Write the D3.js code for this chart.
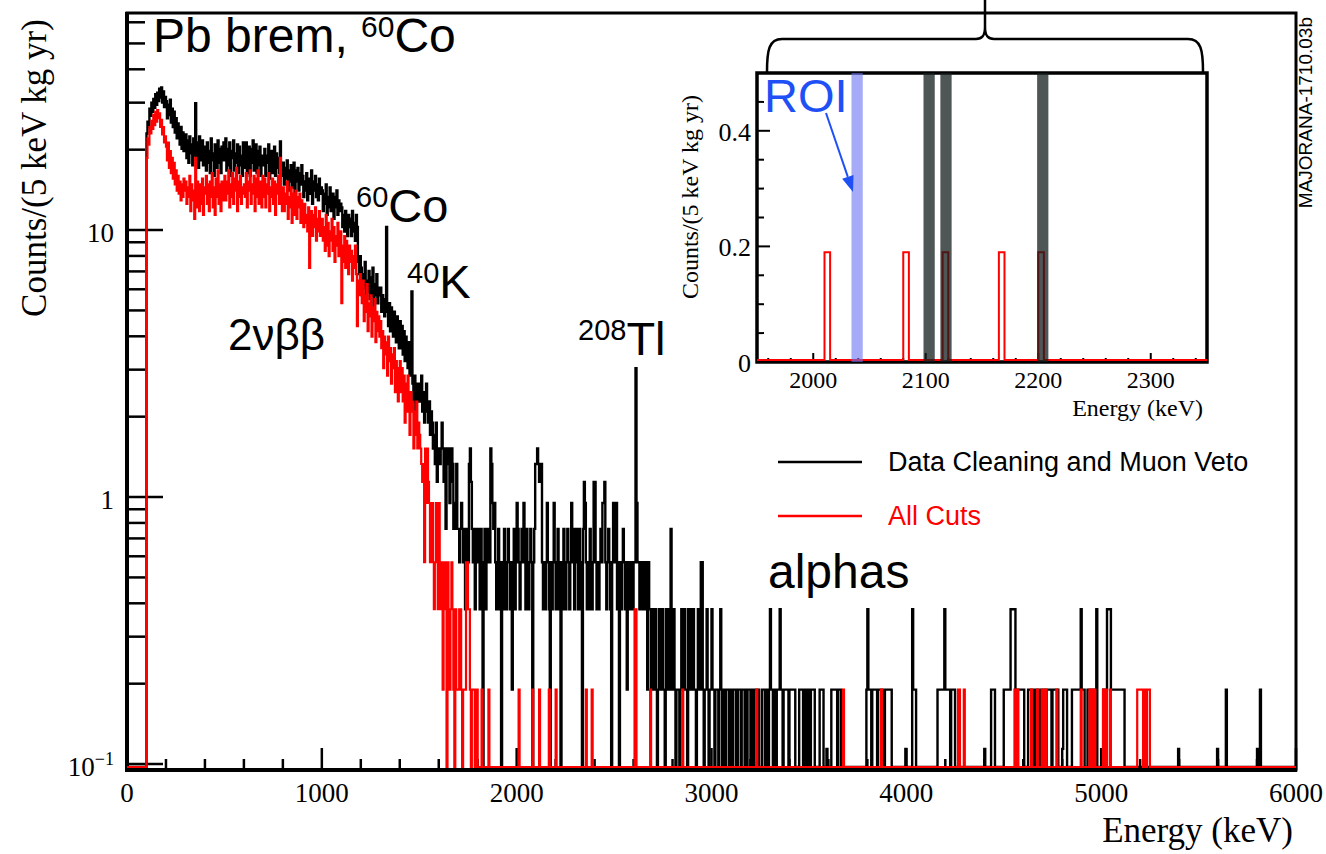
<!DOCTYPE html>
<html>
<head>
<meta charset="utf-8">
<script src="https://cdn.jsdelivr.net/npm/d3@7"></script>
<style>
body { margin: 0; background: #fff; }
.serif { font-family: "Liberation Serif", "Times New Roman", serif; }
.sans { font-family: "Liberation Sans", Arial, sans-serif; }
</style>
</head>
<body>
<svg id="chart" width="1326" height="854"></svg>
<script>
"use strict";
// 5 keV bins from 0 to 6000 keV, one row = 100 keV
var binWidth = 5;
var perCount = 0.19; // counts/(5 keV kg yr) for one event

// Data Cleaning and Muon Veto (events per bin)
var blackCounts = [
0,0,0,0,0,0,0,0,0,0,0,0,0,0,0,0,0,0,0,0,
121,134,128,150,141,158,146,163,151,170,155,172,160,178,165,180,158,174,152,166,
160,138,155,142,162,133,150,128,146,122,138,116,132,120,110,128,106,122,104,118,
120,98,114,94,118,102,110,92,116,100,157,96,112,90,118,104,96,114,92,108,
108,88,112,94,104,86,116,96,102,84,110,98,90,114,94,106,86,108,96,112,
96,116,88,106,92,112,84,104,98,114,88,102,94,110,86,108,92,100,84,112,
104,90,112,86,100,108,84,106,94,114,88,98,110,86,104,92,108,84,100,96,
92,106,84,100,94,110,82,98,104,86,96,108,84,102,90,98,86,113,92,84,
94,78,90,82,96,74,88,80,92,76,86,94,72,88,80,90,74,86,78,92,
84,70,80,74,86,68,82,72,78,88,66,80,74,84,70,78,68,82,72,76,
74,62,72,66,78,60,70,64,76,62,68,72,58,70,64,74,60,68,62,66,
64,54,60,52,62,56,50,60,54,58,50,62,52,56,48,60,54,40,36,42,
38,30,36,32,40,28,34,31,37,29,35,30,38,27,33,30,36,28,32,30,
32,26,30,28,25,29,54,26,23,28,22,27,24,21,26,23,20,25,22,19,
24,19,23,18,22,17,21,19,16,20,15,18,31,14,12,15,11,14,12,13,
14,12,15,11,13,10,12,14,11,10,12,9,11,10,8,9,7,10,6,8,
8,7,8,10,8,6,8,4,8,7,8,5,6,8,7,4,5,4,7,4,
4,3,4,5,4,3,4,2,3,4,3,7,8,6,4,3,4,2,4,3,
4,3,2,4,3,0,3,4,2,3,4,3,3,8,7,5,4,5,3,2,
3,4,2,3,0,3,2,4,3,2,3,4,3,2,3,1,3,4,2,3,
5,4,3,2,3,4,3,5,3,2,4,3,2,3,4,3,0,3,4,7,
7,8,7,6,7,7,3,2,3,2,3,5,3,2,0,3,2,3,5,3,
2,3,4,2,3,0,3,2,4,3,2,3,4,3,2,3,5,3,4,2,
3,4,3,2,4,3,2,0,4,6,5,3,2,3,2,4,3,2,3,6,
6,3,2,3,2,3,4,3,5,5,6,3,2,3,4,3,2,0,3,5,
5,3,5,2,3,0,3,2,3,4,3,2,3,1,3,2,3,2,3,2,
3,3,16,5,3,3,2,3,3,2,3,2,3,2,1,3,2,2,1,2,
2,1,2,1,0,1,2,1,1,2,1,1,0,2,1,2,1,1,4,1,
1,2,1,0,1,1,1,0,1,2,1,1,2,1,1,0,2,1,1,2,
1,2,1,1,0,1,2,1,1,3,3,1,0,1,1,2,1,0,1,1,
2,1,1,0,1,1,1,0,1,2,1,0,1,1,0,1,1,1,0,1,
1,0,1,1,1,0,0,1,1,1,0,1,1,1,0,1,0,1,1,1,
0,1,1,0,1,1,1,0,1,0,0,0,1,1,1,0,1,1,0,1,
2,1,1,0,1,1,0,1,1,1,2,1,1,0,1,1,1,1,1,0,
1,1,1,1,1,1,0,0,0,0,1,1,1,1,0,1,0,0,1,1,
0,0,1,1,1,1,0,0,0,0,0,1,1,1,1,0,0,0,0.6,0,
0,0,0,1,1,1,1,1,1,0,1,1,1,0,0,0,0,0,0,0,
0,0,0,0,0,0,0,0,0,0,0,0,0,0,0,0,0,0,0,1,
2,1,1,1,0,1,1,1,1,1,0,1,1,1,1,1,1,0,1,1,
1,1,1,1,1,0,0,0,0,0,0,0,0,0,0,0,0,0,0,0.6,
0,0,0,0,0,0,2,1,1,1,0,0,0,0,0,0,0,0,0,0,
0,0,0,0,0,0,0,0,0,0,0,0,1,1,1,1,1,1,1,2,
1,1,1,1,1,0,1,1,1,1,0,0,0,0,0,0,0,0,0,0,
0,0,0,0,0,0,0,0,0,0,0,0,0,0,0,0,0,0,0,0,
0.6,0,0,0,0,0,0,1,1,1,1,0,0,0,0,0,0,0,0,0,
1,1,1,1,1,1,1,2,2,2,2,2,1,1,1,1,1,1,1,1,
1,0,0,0,0,1,1,1,1,1,1,0,1,1,1,1,0,1,1,1,
1,1,1,0,1,1,1,1,1,0,1,1,1,1,1,1,0,0,0,0,
0.6,1,1,1,1,0,0,0,0,0,1,1,1,1,1,1,1,1,1,2,
1,1,1,0,0,0,1,1,1,1,1,1,1,1,1,2,0,0,0,0,
0,0,1,1,1,1,2,2,2,2,1,1,1,1,1,1,1,1,1,1,
1,1,1,1,0,0,0,0,0,0,0,0,0,0,0,0,0,0,0,0,
0,0,0,0,0,0,0,0,0,0,0,0,0,0,0,0,0,0,0,0,
0,0,0,0,0,0,0,0,0,0,0,0,0,0,0,0,0,0,0,0.6,
0,0,0,0,0,0,0,0,0,0,0,0,0,0,0,0,0,0,0,0,
0,0,0,0,0,0,0,0,0,0,0,0,0,0,0,0,0,0,0,0.6,
0,0,0,0,0,0,0,0,1,0,0,0,0,0,0,0,0,0,0,0,
0,0,0,0,0,0,0,0,0,0,0,0,0,0,0,0,0,0,0,0,
0.6,0,0,1,0,0,0,0,0,0,0,0,0,0,0,0,0,0,0,0,
0,0,0,0,0,0,0,0,0,0,0,0,0,0,0,0,0,0,0,0
];

// All Cuts (events per bin)
var redCounts = [
0,0,0,0,0,0,0,0,0,0,0,0,0,0,0,0,0,0,0,0,
98,116,110,128,121,135,126,142,130,146,134,148,138,144,128,136,120,128,112,118,
108,96,112,90,104,86,98,82,94,78,88,74,84,72,80,68,78,70,82,74,
80,66,76,70,84,62,78,68,74,58,98,64,80,70,62,78,66,82,60,76,
72,84,66,78,62,80,70,86,64,76,60,82,70,88,66,78,62,80,74,68,
84,68,80,72,88,64,78,70,86,66,82,74,90,62,80,70,84,66,76,72,
78,70,86,64,80,74,88,66,78,72,84,62,82,70,88,66,76,80,64,84,
70,82,64,78,72,86,62,76,70,82,66,80,60,78,72,84,66,98,70,62,
76,62,72,66,80,58,70,64,76,56,72,66,60,74,58,70,64,72,56,68,
62,54,66,56,60,52,64,38,58,62,50,60,54,64,48,58,52,62,50,56,
58,48,54,44,60,46,56,42,52,48,58,44,54,40,50,46,56,42,48,52,
28,46,40,50,38,48,42,36,46,40,44,34,42,38,46,36,23,34,30,36,
32,28,34,24,30,26,33,22,28,25,30,21,27,24,29,20,26,22,25,21,
24,19,22,16,21,18,20,15,21,17,19,14,18,16,19,13,17,15,12,16,
17,13,16,12,15,10,14,11,15,12,9,13,11,12,8,11,9,12,8,10,
9,8,7,6,7,3,8,5,8,6,5,3,4,5,3,2,3,5,3,2,
5,3,2,3,1,2,3,2,0,3,2,1,2,3,2,1,0,2,1,1,
1,2,2,1,0,1,1,1,3,3,2,2,1,0,1,1,1,0,1,1,
0,0,0,0,1,0,0,0,0,0,0,1,0,0,0,0,0,0,0,0,
0,0,0,0,0,0,0,0,0,0,0,0,0,0,0,0,0,0,0,0,
0,0,1,0,0,0,0,0,0,0,0,0,0,0,0,0,1,0,0,0,
0,0,0,1,0,0,0,0,0,0,0,0,0,1,0,0,0,0,0,0,
1,0,0,0,0,0,0,0,0,0,0,0,0,0,0,0,0,0,0,0,
0,0,0,0,0,0,0,0,0,0,0,1,0,0,0,0,0,1,0,0,
0,0,0,0,0,0,0,0,0,0,0,0,0,0,0,0,0,0,0,0,
0,0,0,0,0,0,0,0,0,0,0,0,0,0,0,0,0,0,0,0,
0,2,2,0,0,0,0,0,0,0,0,0,0,0,0,0,0,1,0,0,
0,0,0,0,0,0,0,0,0,0,0,0,0,0,0,0,0,0,0,0,
0,0,0,0,0,0,0,0,0,0,1,0,0,0,0,0,0,0,0,0,
0,0,0,0,0,0,0,0,0,0,0,0,0,0,0,0,0,0,0,0,
0,0,0,0,0,0,0,0,0,0,0,0,0,0,0,0,0,0,0,0,
0,0,0,0,0,0,0,0,0,0,0,0,0,0,0,0,0,0,0,0,
0,0,0,0,0,0,1,0,0,0,0,0,0,0,0,0,0,0,0,0,
0,0,0,0,0,0,0,0,0,0,0,0,0,0,0,0,0,0,0,0,
0,0,0,0,0,0,0,0,0,0,0,0,0,0,0,0,0,0,0,0,
0,0,0,0,0,0,0,0,0,0,0,0,0,0,0,0,0,0,0,0,
0,0,0,0,0,0,0,0,0,0,0,0,0,0,0,1,0,0,0,0,
0,0,0,0,0,0,0,0,0,0,0,0,0,0,0,0,0,0,0,0,
0,0,0,0,0,0,0,0,0,0,0,0,0,0,1,0,0,0,0,0,
0,0,0,0,0,0,0,0,0,0,0,0,0,0,0,0,0,0,0,0,
0,0,0,0,0,0,0,0,0,0,0,0,0,0,0,0,0,0,0,0,
0,0,0,0,0,0,0,0,0,0,0,0,0,0,0,0,0,0,0,0,
0,0,0,0,0,0,0,0,0,0,0,0,0,1,1,0,0,0,0,1,
0,0,0,0,0,0,0,0,0,0,0,0,0,0,0,0,0,0,0,0,
0,0,0,0,0,0,0,0,0,0,0,0,0,0,0,0,0,0,0,0,
0,0,0,0,0,0,0,0,0,0,0,1,0,0,1,0,0,0,0,0,
0,0,0,0,0,0,0,0,1,0,0,0,0,0,1,0,0,0,0,1,
1,0,0,1,0,0,0,0,0,0,0,0,0,0,1,0,0,0,0,0,
0,0,0,0,0,0,0,0,0,0,0,0,0,0,0,0,0,0,0,1,
0,0,0,0,0,0,0,0,1,0,1,0,0,1,0,0,0,0,0,0,
0,0,1,0,0,1,0,0,0,1,0,0,0,0,0,0,0,0,0,0,
0,0,0,0,0,0,0,0,0,0,0,0,0,0,0,0,0,1,1,1,
1,1,1,0,1,1,0,1,1,1,0,0,0,0,0,0,0,0,0,0,
0,0,0,0,0,0,0,0,0,0,0,0,0,0,0,0,0,0,0,0,
0,0,0,0,0,0,0,0,0,0,0,0,0,0,0,0,0,0,0,0,
0,0,0,0,0,0,0,0,0,0,0,0,0,0,0,0,0,0,0,0,
0,0,0,0,0,0,0,0,0,0,0,0,0,0,0,0,0,0,0,0,
0,0,0,0,0,0,0,0,0,0,0,0,0,0,0,0,0,0,0,0,
0,0,0,0,0,0,0,0,0,0,0,0,0,0,0,0,0,0,0,0,
0,0,0,0,0,0,0,0,0,0,0,0,0,0,0,0,0,0,0,0
];

var xMajorTicks = [0, 1000, 2000, 3000, 4000, 5000, 6000];
var yMajorTicks = [0.1, 1, 10];
var insetXTicks = [2000, 2100, 2200, 2300];
var insetYTicks = [0, 0.2, 0.4];
var roiBand = [2034, 2044];
var vetoBands = [[2098, 2108], [2113, 2123], [2199, 2209]];
var legendNames = ["Data Cleaning and Muon Veto", "All Cuts"];
var legendColors = ["#000", "#ff0000"];

var svg = d3.select("#chart");
svg.append("rect").attr("width", 1326).attr("height", 854).attr("fill", "#fff");

// ---------- main frame ----------
var x = d3.scaleLinear().domain([0, 6000]).range([127, 1296]);
var y = d3.scaleLog().domain([0.095, 65]).range([770, 13]);
var yFloor = 767;

// histogram points: [low edge, value], plus closing edge
function histPoints(counts, lo, hi) {
  var pts = [];
  for (var i = 0; i < counts.length; i++) {
    var e = i * binWidth;
    if (e < lo || e >= hi) continue;
    pts.push([e, counts[i] * perCount]);
  }
  pts.push([hi, pts[pts.length - 1][1]]);
  return pts;
}

var frame = svg.append("g");
frame.append("rect")
  .attr("x", 127).attr("y", 13).attr("width", 1296 - 127).attr("height", 770 - 13)
  .attr("fill", "none").attr("stroke", "#000").attr("stroke-width", 3);
frame.append("line").attr("x1", 127).attr("x2", 127).attr("y1", 12).attr("y2", 772)
  .attr("stroke", "#000").attr("stroke-width", 4);
frame.append("line").attr("x1", 125).attr("x2", 1297).attr("y1", 770).attr("y2", 770)
  .attr("stroke", "#000").attr("stroke-width", 4);

// x ticks (inside, pointing up)
var xMinor = d3.range(0, 6001, 200).filter(function(d){ return d % 1000 !== 0; });
frame.selectAll("line.xminor").data(xMinor).enter().append("line")
  .attr("x1", function(d){ return x(d); }).attr("x2", function(d){ return x(d); })
  .attr("y1", 770).attr("y2", 759).attr("stroke", "#000").attr("stroke-width", 2.5);
frame.selectAll("line.xmajor").data(xMajorTicks).enter().append("line")
  .attr("x1", function(d){ return x(d); }).attr("x2", function(d){ return x(d); })
  .attr("y1", 770).attr("y2", 748).attr("stroke", "#000").attr("stroke-width", 2.5);
frame.selectAll("text.xlab").data(xMajorTicks).enter().append("text")
  .attr("class", "serif").attr("x", function(d){ return x(d); }).attr("y", 802)
  .attr("text-anchor", "middle").attr("font-size", 27).text(function(d){ return d; });

// y ticks (log)
var yMinor = [];
[0.1, 1, 10].forEach(function(dec){
  for (var k = 2; k <= 9; k++) { if (dec * k <= 65) yMinor.push(dec * k); }
});
frame.selectAll("line.yminor").data(yMinor).enter().append("line")
  .attr("x1", 127).attr("x2", 145)
  .attr("y1", function(d){ return y(d); }).attr("y2", function(d){ return y(d); })
  .attr("stroke", "#000").attr("stroke-width", 2.5);
frame.selectAll("line.ymajor").data(yMajorTicks).enter().append("line")
  .attr("x1", 127).attr("x2", 163)
  .attr("y1", function(d){ return y(d); }).attr("y2", function(d){ return y(d); })
  .attr("stroke", "#000").attr("stroke-width", 2.5);
var ylab = frame.selectAll("text.ylab").data(yMajorTicks).enter().append("text")
  .attr("class", "serif").attr("x", 114).attr("y", function(d){ return y(d) + 12; })
  .attr("text-anchor", "end").attr("font-size", 27);
ylab.each(function(d){
  var t = d3.select(this);
  if (d < 1) {
    t.append("tspan").text("10");
    t.append("tspan").attr("font-size", 18).attr("dy", -11).text("\u22121");
  } else {
    t.text(d);
  }
});

// axis titles
svg.append("text").attr("class", "serif").attr("font-size", 35)
  .attr("transform", "translate(46,168) rotate(-90)").attr("text-anchor", "middle")
  .text("Counts/(5 keV kg yr)");
svg.append("text").attr("class", "serif").attr("font-size", 35)
  .attr("x", 1293).attr("y", 842).attr("text-anchor", "end").text("Energy (keV)");

// histograms
var line = d3.line()
  .x(function(d){ return x(d[0]); })
  .y(function(d){ return d[1] > 0 ? y(d[1]) : yFloor; })
  .curve(d3.curveStepAfter);
svg.append("path").datum(histPoints(blackCounts, 0, 6000)).attr("d", line)
  .attr("fill", "none").attr("stroke", "#000").attr("stroke-width", 2.4);
svg.append("path").datum(histPoints(redCounts, 0, 6000)).attr("d", line)
  .attr("fill", "none").attr("stroke", "#ff0000").attr("stroke-width", 2.2);

// annotations
function isotope(px, py, sup, name) {
  var t = svg.append("text").attr("class", "sans").attr("x", px).attr("y", py).attr("font-size", 47);
  t.append("tspan").attr("font-size", 29).attr("dy", -15).text(sup);
  t.append("tspan").attr("dy", 15).text(name);
}
var pb = svg.append("text").attr("class", "sans").attr("x", 153).attr("y", 52).attr("font-size", 48);
pb.append("tspan").text("Pb brem, ");
pb.append("tspan").attr("font-size", 30).attr("dy", -15).text("60");
pb.append("tspan").attr("dy", 15).text("Co");
isotope(356, 222, "60", "Co");
isotope(407, 298, "40", "K");
isotope(578, 355, "208", "Tl");
svg.append("text").attr("class", "sans").attr("x", 228).attr("y", 350).attr("font-size", 44).text("2\u03bd\u03b2\u03b2");
svg.append("text").attr("class", "sans").attr("x", 768).attr("y", 588).attr("font-size", 48).text("alphas");

// legend
legendNames.forEach(function(name, i){
  var ly = 462 + i * 54;
  svg.append("line").attr("x1", 778).attr("x2", 862).attr("y1", ly).attr("y2", ly)
    .attr("stroke", legendColors[i]).attr("stroke-width", 2.5);
  svg.append("text").attr("class", "sans").attr("x", 888).attr("y", ly + 9)
    .attr("font-size", 27).attr("fill", legendColors[i]).text(name);
});

// side label
svg.append("text").attr("class", "sans").attr("font-size", 19)
  .attr("transform", "translate(1312,17) rotate(-90)").attr("text-anchor", "end")
  .text("MAJORANA-1710.03b");

// ---------- inset ----------
var xi = d3.scaleLinear().domain([1950, 2350]).range([757, 1207]);
var yi = d3.scaleLinear().domain([0, 0.5]).range([362, 73]);
var inset = svg.append("g");
inset.append("rect").attr("x", 757).attr("y", 73).attr("width", 450).attr("height", 289)
  .attr("fill", "#fff").attr("stroke", "#000").attr("stroke-width", 3.5);

var xiMinor = d3.range(1960, 2350, 20).filter(function(d){ return d % 100 !== 0; });
inset.selectAll("line.ximin").data(xiMinor).enter().append("line")
  .attr("x1", function(d){ return xi(d); }).attr("x2", function(d){ return xi(d); })
  .attr("y1", 362).attr("y2", 358).attr("stroke", "#000").attr("stroke-width", 2);
inset.selectAll("line.ximaj").data(insetXTicks).enter().append("line")
  .attr("x1", function(d){ return xi(d); }).attr("x2", function(d){ return xi(d); })
  .attr("y1", 362).attr("y2", 353).attr("stroke", "#000").attr("stroke-width", 2);
inset.selectAll("text.xil").data(insetXTicks).enter().append("text")
  .attr("class", "serif").attr("x", function(d){ return xi(d); }).attr("y", 388)
  .attr("text-anchor", "middle").attr("font-size", 24).text(function(d){ return d; });

var yiMinor = d3.range(0.05, 0.5, 0.05).filter(function(d){ return Math.abs(d / 0.2 - Math.round(d / 0.2)) > 0.01; });
inset.selectAll("line.yimin").data(yiMinor).enter().append("line")
  .attr("x1", 757).attr("x2", 764)
  .attr("y1", function(d){ return yi(d); }).attr("y2", function(d){ return yi(d); })
  .attr("stroke", "#000").attr("stroke-width", 2);
inset.selectAll("line.yimaj").data(insetYTicks).enter().append("line")
  .attr("x1", 757).attr("x2", 770)
  .attr("y1", function(d){ return yi(d); }).attr("y2", function(d){ return yi(d); })
  .attr("stroke", "#000").attr("stroke-width", 2);
inset.selectAll("text.yil").data(insetYTicks).enter().append("text")
  .attr("class", "serif").attr("x", 751).attr("y", function(d){ return yi(d) + 10; })
  .attr("text-anchor", "end").attr("font-size", 26).text(function(d){ return d; });

inset.append("text").attr("class", "serif").attr("font-size", 24)
  .attr("x", 1203).attr("y", 416).attr("text-anchor", "end").text("Energy (keV)");
inset.append("text").attr("class", "serif").attr("font-size", 24)
  .attr("transform", "translate(698,197) rotate(-90)").attr("text-anchor", "middle")
  .text("Counts/(5 keV kg yr)");

var lineIn = d3.line()
  .x(function(d){ return xi(d[0]); })
  .y(function(d){ return d[1] > 0 ? yi(d[1]) : 360; })
  .curve(d3.curveStepAfter);
inset.append("path").datum(histPoints(redCounts, 1950, 2350)).attr("d", lineIn)
  .attr("fill", "none").attr("stroke", "#ff0000").attr("stroke-width", 2);

inset.append("rect").attr("x", xi(roiBand[0])).attr("y", 73)
  .attr("width", xi(roiBand[1]) - xi(roiBand[0])).attr("height", 289)
  .attr("fill", "rgba(105,115,240,0.6)");
inset.selectAll("rect.veto").data(vetoBands).enter().append("rect")
  .attr("x", function(d){ return xi(d[0]); }).attr("y", 73)
  .attr("width", function(d){ return xi(d[1]) - xi(d[0]); }).attr("height", 289)
  .attr("fill", "rgba(20,30,30,0.75)");

// ROI label and arrow
var blue = "#1e50f5";
inset.append("text").attr("class", "sans").attr("x", 764).attr("y", 112)
  .attr("font-size", 47).attr("fill", blue).text("ROI");
var a0 = [826, 113], a1 = [853, 192];
var dx = a1[0] - a0[0], dy = a1[1] - a0[1], len = Math.sqrt(dx * dx + dy * dy);
var ux = dx / len, uy = dy / len;
var bx = a1[0] - 16 * ux, by = a1[1] - 16 * uy;
inset.append("line").attr("x1", a0[0]).attr("y1", a0[1]).attr("x2", bx).attr("y2", by)
  .attr("stroke", blue).attr("stroke-width", 2);
inset.append("polygon")
  .attr("points", [[a1[0], a1[1]], [bx - 6 * uy, by + 6 * ux], [bx + 6 * uy, by - 6 * ux]].join(" "))
  .attr("fill", blue);

// brace above the inset
svg.append("path")
  .attr("d", "M767,72 C767,50 769,39 782,39 L976,39 C982,39 985,36 985,27 C985,36 988,39 994,39 L1188,39 C1201,39 1203,50 1203,72 M985,27 L985,0")
  .attr("fill", "none").attr("stroke", "#000").attr("stroke-width", 2.5);
</script>
</body>
</html>
